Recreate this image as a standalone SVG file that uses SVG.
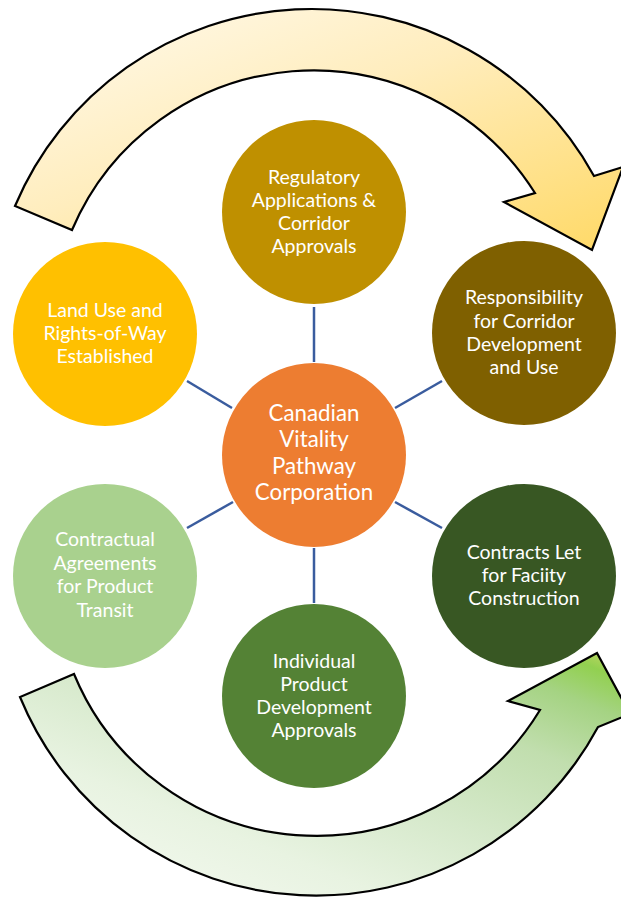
<svg xmlns="http://www.w3.org/2000/svg" width="621" height="898" viewBox="0 0 621 898">
  <defs>
    <linearGradient id="gradTop" x1="0" y1="0" x2="1" y2="1">
      <stop offset="0" stop-color="#FFFBF0"/>
      <stop offset="0.45" stop-color="#FFEDBD"/>
      <stop offset="1" stop-color="#FFD966"/>
    </linearGradient>
    <linearGradient id="gradBottom" x1="0" y1="1" x2="1" y2="0">
      <stop offset="0" stop-color="#F8FBF5"/>
      <stop offset="0.3" stop-color="#E8F3E1"/>
      <stop offset="0.5" stop-color="#D6E9CB"/>
      <stop offset="0.72" stop-color="#C1DEAE"/>
      <stop offset="0.86" stop-color="#A5D383"/>
      <stop offset="0.94" stop-color="#92D050"/>
      <stop offset="1" stop-color="#D0D86A"/>
    </linearGradient>
    <style>
      .arrow { stroke: #000000; stroke-width: 2.2; stroke-linejoin: miter; }
      .link { stroke: #3A5C9E; stroke-width: 2.5; fill: none; }
      .label { font-family: "Lato", "Liberation Sans", sans-serif; font-size: 19.5px; fill: #FFFFFF; text-anchor: middle; }
      .hub { font-family: "Lato", "Liberation Sans", sans-serif; font-size: 22.3px; fill: #FFFFFF; text-anchor: middle; }
    </style>
  </defs>

  <!-- cycle arrows -->
  <g id="arrow-top">
    <path class="arrow" fill="url(#gradTop)" d="M 15,206 A 322 322 0 0 1 594,176 L 623,167 L 592,250 L 504,202 L 535,193 A 262 262 0 0 0 72,230 Z"/>
  </g>
  <g id="arrow-bottom">
    <path class="arrow" fill="url(#gradBottom)" d="M 20,697 A 320 320 0 0 0 598,727 L 630,714 L 597,653 L 508,701 L 540,710 A 262 262 0 0 1 74,674 Z"/>
  </g>

  <!-- spokes from the hub -->
  <g id="connectors">
    <line class="link" x1="314" y1="307" x2="314" y2="362"/>
    <line class="link" x1="187" y1="381" x2="232" y2="408"/>
    <line class="link" x1="442" y1="381" x2="395" y2="408"/>
    <line class="link" x1="233" y1="502" x2="187" y2="528"/>
    <line class="link" x1="395" y1="502" x2="442" y2="528"/>
    <line class="link" x1="314" y1="548" x2="314" y2="603"/>
  </g>

  <g id="node-regulatory">
    <circle cx="314" cy="212" r="92" fill="#BF9000"/>
    <text class="label" x="314" y="184">Regulatory</text>
    <text class="label" x="314" y="207">Applications &amp;</text>
    <text class="label" x="314" y="230">Corridor</text>
    <text class="label" x="314" y="253">Approvals</text>
  </g>

  <g id="node-land-use">
    <circle cx="105" cy="334" r="92" fill="#FFC000"/>
    <text class="label" x="105" y="317">Land Use and</text>
    <text class="label" x="105" y="340">Rights-of-Way</text>
    <text class="label" x="105" y="363">Established</text>
  </g>

  <g id="node-responsibility">
    <circle cx="524" cy="333" r="92" fill="#7F6000"/>
    <text class="label" x="524" y="304">Responsibility</text>
    <text class="label" x="524" y="328">for Corridor</text>
    <text class="label" x="524" y="351">Development</text>
    <text class="label" x="524" y="374">and Use</text>
  </g>

  <g id="node-hub">
    <circle cx="314" cy="455" r="92" fill="#ED7D31"/>
    <text class="hub" x="314" y="421">Canadian</text>
    <text class="hub" x="314" y="447">Vitality</text>
    <text class="hub" x="314" y="474">Pathway</text>
    <text class="hub" x="314" y="500">Corporation</text>
  </g>

  <g id="node-contractual">
    <circle cx="105" cy="576" r="92" fill="#A9D18E"/>
    <text class="label" x="105" y="546">Contractual</text>
    <text class="label" x="105" y="570">Agreements</text>
    <text class="label" x="105" y="593">for Product</text>
    <text class="label" x="105" y="617">Transit</text>
  </g>

  <g id="node-contracts-let">
    <circle cx="524" cy="576" r="92" fill="#385723"/>
    <text class="label" x="524" y="559">Contracts Let</text>
    <text class="label" x="524" y="582">for Faciity</text>
    <text class="label" x="524" y="605">Construction</text>
  </g>

  <g id="node-individual">
    <circle cx="314" cy="696" r="92" fill="#548235"/>
    <text class="label" x="314" y="668">Individual</text>
    <text class="label" x="314" y="691">Product</text>
    <text class="label" x="314" y="714">Development</text>
    <text class="label" x="314" y="737">Approvals</text>
  </g>
</svg>
